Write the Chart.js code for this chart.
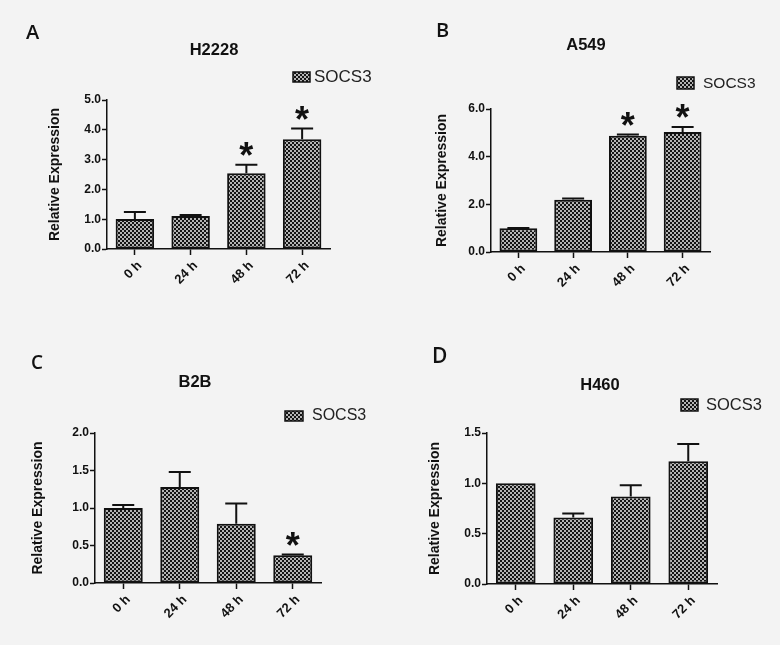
<!DOCTYPE html>
<html><head><meta charset="utf-8">
<script src="https://cdn.jsdelivr.net/npm/chart.js@4"></script>
<style>
html,body{margin:0;padding:0;background:#f3f3f3;}
#wrap{position:relative;width:780px;height:645px;overflow:hidden;background:#f3f3f3;}
canvas{position:absolute;}
</style></head><body><div id="wrap">
<canvas id="cA"></canvas><canvas id="cB"></canvas><canvas id="cC"></canvas><canvas id="cD"></canvas>
</div>
<script>
// ---- data ----
const categories = ['0 h', '24 h', '48 h', '72 h'];
const seriesLabel = 'SOCS3';
const yAxisTitle = 'Relative Expression';

const h2228Values = [1.01, 1.11, 2.54, 3.68];
const h2228Errors = [0.23, 0.03, 0.29, 0.36];
const h2228Sig = [false, false, true, true];
const h2228Ticks = [0, 1, 2, 3, 4, 5];

const a549Values = [1.0, 2.19, 4.88, 5.03];
const a549Errors = [0.01, 0.05, 0.05, 0.21];
const a549Sig = [false, false, true, true];
const a549Ticks = [0, 2, 4, 6];

const b2bValues = [1.0, 1.28, 0.79, 0.37];
const b2bErrors = [0.04, 0.20, 0.27, 0.01];
const b2bSig = [false, false, false, true];
const b2bTicks = [0, 0.5, 1, 1.5, 2];

const h460Values = [1.0, 0.66, 0.87, 1.22];
const h460Errors = [0, 0.04, 0.11, 0.17];
const h460Sig = [false, false, false, false];
const h460Ticks = [0, 0.5, 1, 1.5];

const panelLetters = ['A', 'B', 'C', 'D'];
const panelTitles = ['H2228', 'A549', 'B2B', 'H460'];

// ---- layout (positions / styles) ----
const layouts = [
  {id:'cA', x:0,   y:0,   w:390, h:320, left:107, right:330, top:100, bottom:249, yTitleLeft:47, letter:[26,39], letterSize:20, title:[214,55], swatch:[293,72,17,10], legendText:[314,82], legendFont:17},
  {id:'cB', x:390, y:0,   w:390, h:320, left:101, right:320, top:109, bottom:252, yTitleLeft:44, letter:[46,37], letterSize:20, title:[196,50], swatch:[287,77,17,12], legendText:[313,88], legendFont:15.5},
  {id:'cC', x:0,   y:320, w:390, h:325, left:95,  right:321, top:113, bottom:263, yTitleLeft:30, letter:[31,49], letterSize:19, title:[195,67], swatch:[285,91,18,10], legendText:[312,100], legendFont:16},
  {id:'cD', x:390, y:320, w:390, h:325, left:97,  right:327, top:113, bottom:264, yTitleLeft:37, letter:[42,43], letterSize:21, title:[210,70], swatch:[291,79,17,12], legendText:[316,90], legendFont:16.5}
];

const FONT = "'Liberation Sans', Arial, sans-serif";

function makePattern() {
  const t = document.createElement('canvas');
  t.width = 4; t.height = 4;
  const c = t.getContext('2d');
  c.fillStyle = '#141414'; c.fillRect(0,0,4,4);
  c.fillStyle = '#b4b4b4';
  c.fillRect(0,0,2,2); c.fillRect(2,2,2,2);
  return c.createPattern(t, 'repeat');
}
const pattern = makePattern();

function makeChart(L, values, errors, sig, ticks, letter, title) {
  const cv = document.getElementById(L.id);
  cv.width = L.w; cv.height = L.h;
  cv.style.left = L.x + 'px'; cv.style.top = L.y + 'px';

  const decor = {
    id: 'decor' + L.id,
    afterDatasetsDraw(chart) {
      const ctx = chart.ctx;
      const ys = chart.scales.y;
      const meta = chart.getDatasetMeta(0);
      ctx.save();
      ctx.strokeStyle = '#111';
      ctx.lineWidth = 2;
      meta.data.forEach((bar, i) => {
        const topPx = ys.getPixelForValue(values[i] + errors[i]);
        if (errors[i] > 0) {
          ctx.beginPath();
          ctx.moveTo(bar.x, bar.y);
          ctx.lineTo(bar.x, topPx);
          ctx.moveTo(bar.x - 11, topPx);
          ctx.lineTo(bar.x + 11, topPx);
          ctx.stroke();
        }
        if (sig[i]) {
          ctx.fillStyle = '#111';
          ctx.font = 'bold 36px ' + FONT;
          ctx.textAlign = 'center';
          ctx.textBaseline = 'alphabetic';
          ctx.fillText('*', bar.x, topPx + 3);
        }
      });
      ctx.restore();
    },
    afterDraw(chart) {
      const ctx = chart.ctx;
      ctx.save();
      ctx.fillStyle = '#111';
      ctx.textBaseline = 'alphabetic';
      ctx.textAlign = 'left';
      ctx.font = '600 ' + L.letterSize + "px 'Open Sans', 'Noto Sans', sans-serif";
      ctx.fillText(letter, L.letter[0], L.letter[1]);
      ctx.textAlign = 'center';
      ctx.font = 'bold 16.5px ' + FONT;
      ctx.fillText(title, L.title[0], L.title[1]);
      const s = L.swatch;
      ctx.fillStyle = pattern;
      ctx.fillRect(s[0], s[1], s[2], s[3]);
      ctx.strokeStyle = '#111';
      ctx.lineWidth = 1.5;
      ctx.strokeRect(s[0], s[1], s[2], s[3]);
      ctx.fillStyle = '#222';
      ctx.textAlign = 'left';
      ctx.font = L.legendFont + 'px ' + FONT;
      ctx.fillText(seriesLabel, L.legendText[0], L.legendText[1]);
      ctx.restore();
    }
  };

  return new Chart(cv, {
    type: 'bar',
    data: {
      labels: categories,
      datasets: [{
        label: seriesLabel,
        data: values,
        backgroundColor: pattern,
        borderColor: '#111',
        borderWidth: 2,
        borderSkipped: false,
        barPercentage: 0.69,
        categoryPercentage: 1
      }]
    },
    options: {
      responsive: false,
      animation: false,
      devicePixelRatio: 1,
      layout: { padding: { left: L.yTitleLeft, right: L.w - L.right, top: L.top, bottom: 0 } },
      plugins: { legend: { display: false }, tooltip: { enabled: false }, title: { display: false } },
      scales: {
        x: {
          grid: { offset: false, drawOnChartArea: false, drawTicks: true, tickLength: 6, tickWidth: 1.5, tickColor: '#111' },
          border: { display: true, color: '#111', width: 1.5 },
          ticks: { minRotation: 45, maxRotation: 45, autoSkip: false, padding: 3, labelOffset: 5, color: '#111',
                   font: { family: FONT, weight: 'bold', size: 13 } },
          afterFit: (s) => { s.height = L.h - L.bottom; }
        },
        y: {
          min: 0,
          max: ticks[ticks.length - 1],
          afterBuildTicks: (s) => { s.ticks = ticks.map(v => ({ value: v })); },
          grid: { drawOnChartArea: false, drawTicks: true, tickLength: 5, tickWidth: 1.5, tickColor: '#111' },
          border: { display: true, color: '#111', width: 1.5 },
          ticks: { padding: 1, color: '#111', callback: (v) => Number(v).toFixed(1),
                   font: { family: FONT, weight: 'bold', size: 12 } },
          title: { display: true, text: yAxisTitle, padding: 0, color: '#111',
                   font: { family: FONT, weight: 'bold', size: 14 } },
          afterFit: (s) => { s.width = L.left - L.yTitleLeft; }
        }
      }
    },
    plugins: [decor]
  });
}

makeChart(layouts[0], h2228Values, h2228Errors, h2228Sig, h2228Ticks, panelLetters[0], panelTitles[0]);
makeChart(layouts[1], a549Values, a549Errors, a549Sig, a549Ticks, panelLetters[1], panelTitles[1]);
makeChart(layouts[2], b2bValues, b2bErrors, b2bSig, b2bTicks, panelLetters[2], panelTitles[2]);
makeChart(layouts[3], h460Values, h460Errors, h460Sig, h460Ticks, panelLetters[3], panelTitles[3]);
</script>
</body></html>
